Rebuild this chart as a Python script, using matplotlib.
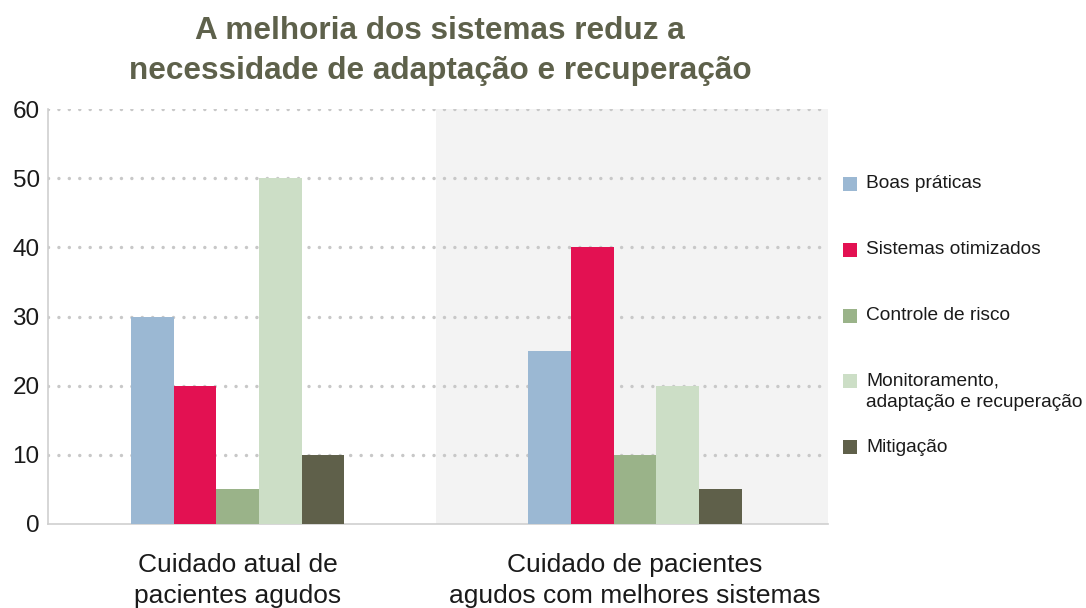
import numpy as np
import matplotlib.pyplot as plt
from matplotlib.patches import Rectangle

plt.rcParams['font.family'] = ['Liberation Sans', 'DejaVu Sans']

# Data
groups = ['Cuidado atual de\npacientes agudos', 'Cuidado de pacientes\nagudos com melhores sistemas']
series = ['Boas práticas', 'Sistemas otimizados', 'Controle de risco',
          'Monitoramento,\nadaptação e recuperação', 'Mitigação']
boas_praticas = [30, 25]
sistemas_otimizados = [20, 40]
controle_risco = [5, 10]
monitoramento = [50, 20]
mitigacao = [10, 5]
yticks = [0, 10, 20, 30, 40, 50, 60]

values = [boas_praticas, sistemas_otimizados, controle_risco, monitoramento, mitigacao]
colors = ['#9BB8D3', '#E31152', '#9AB389', '#CCDEC6', '#5F604A']
title_color = '#5E614B'
text_color = '#1a1a1a'

W, H = 1086, 608
fig = plt.figure(figsize=(W / 100, H / 100), dpi=100)
ax = fig.add_axes([48 / W, 84 / H, 780 / W, 415 / H])

x = np.arange(len(groups))
width = 0.1074
for i, (vals, c) in enumerate(zip(values, colors)):
    ax.bar(x + (i - 2) * width, vals, width, color=c, zorder=3, linewidth=0)

# shaded second group
ax.axvspan(0.5, 1.6, color='#F3F3F3', zorder=0, linewidth=0)

ax.set_xlim(-0.477, 1.486)
ax.set_ylim(0, 60)
ax.set_yticks(yticks)
ax.set_yticklabels([str(t) for t in yticks], fontsize=17.5, color=text_color)
ax.set_xticks(x)
ax.set_xticklabels(groups, fontsize=19, color=text_color, linespacing=1.38)
ax.tick_params(axis='both', length=0)
ax.tick_params(axis='y', pad=6)
ax.tick_params(axis='x', pad=21)

for yv in yticks[1:]:
    ax.axhline(yv, color='#C8C8C8', lw=2.5, linestyle=(0, (0.001, 3.0)),
               dash_capstyle='round', zorder=1)

for s in ['top', 'right']:
    ax.spines[s].set_visible(False)
for s in ['left', 'bottom']:
    ax.spines[s].set_color('#CFCFCF')
    ax.spines[s].set_linewidth(1.2)

fig.text(440 / W, 1 - 51 / H,
         'A melhoria dos sistemas reduz a\nnecessidade de adaptação e recuperação',
         fontsize=22.7, fontweight='bold', color=title_color, ha='center', va='center',
         linespacing=1.4)

# legend, fixed pitch per entry
leg_y0 = 184
pitch = 65.8
for i, (lab, c) in enumerate(zip(series, colors)):
    yc = leg_y0 + i * pitch
    fig.patches.append(Rectangle((843 / W, 1 - (yc + 7) / H), 14 / W, 14 / H,
                                 transform=fig.transFigure, facecolor=c,
                                 edgecolor='none'))
    fig.text(866 / W, 1 - (yc - 8.5) / H, lab, fontsize=13.8, color=text_color,
             ha='left', va='top', linespacing=1.35)

fig.savefig('out.png', dpi=100)
